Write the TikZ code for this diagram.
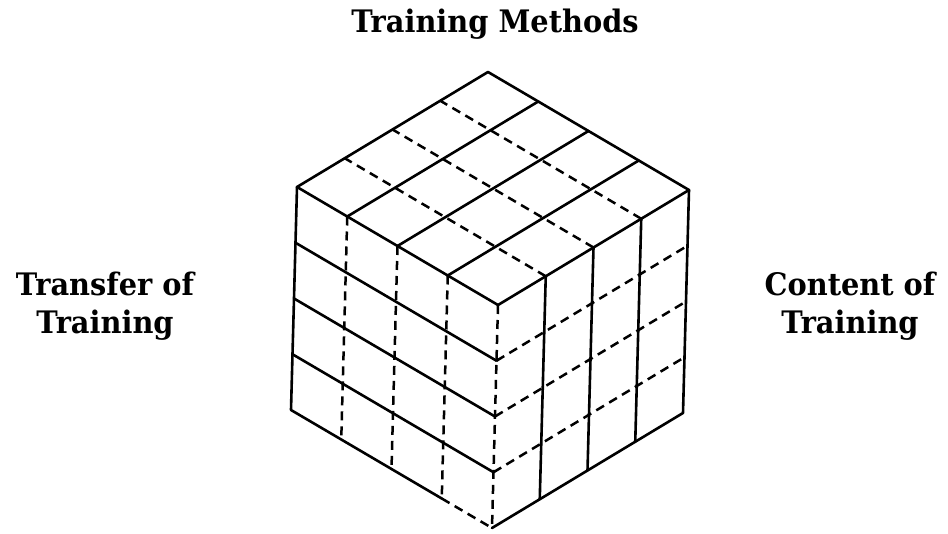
\documentclass[tikz,border=0pt]{standalone}
\usepackage{fontspec}
\newfontfamily\lblfont{DejaVu Serif}[FakeStretch=0.93]
\usetikzlibrary{calc}
\begin{document}
\begin{tikzpicture}[x=1pt,y=-1pt,
  edge/.style={line width=2.6pt, line cap=round, line join=round},
  hidden/.style={line width=2.5pt, dash pattern=on 9pt off 6pt},
  lbl/.style={font=\lblfont\bfseries\fontsize{31}{38}\selectfont, align=center, inner sep=0pt}]
\useasboundingbox (0,0) rectangle (948,534);
% lattice points: i towards left corner, j towards right corner, k downwards
\foreach \i in {0,...,4}{\foreach \j in {0,...,4}{\foreach \k in {0,...,4}{
  \coordinate (p\i\j\k) at ({498-50.25*\i+47.75*\j-1.5*\k},{305-29.5*\i-28.75*\j+55.75*\k});
}}}
% labels
\node[lbl, anchor=base] (title) at (495,33) {Training Methods};
\node[lbl] (transfer) at (105,306) {Transfer of\\Training};
\node[lbl] (content) at (850,306) {Content of\\Training};
% top face
\draw[edge] (p000) -- (p400) -- (p440) -- (p040) -- cycle;
\foreach \i in {1,2,3} \draw[edge] (p\i00) -- (p\i40);
\foreach \j in {1,2,3} \draw[hidden] (p0\j0) -- (p4\j0);
% left face
\draw[edge] (p400) -- (p404) -- (p104);
\draw[hidden] (p104) -- (p004);
\foreach \k in {1,2,3} \draw[edge] (p00\k) -- (p40\k);
\foreach \i in {1,2,3} \draw[hidden] (p\i00) -- (p\i04);
% near vertical edge
\draw[hidden] (p000) -- (p004);
% right face
\draw[edge] (p004) -- (p044) -- (p040);
\foreach \j in {1,2,3} \draw[edge] (p0\j0) -- (p0\j4);
\foreach \k in {1,2,3} \draw[hidden] (p00\k) -- (p04\k);
\end{tikzpicture}
\end{document}
